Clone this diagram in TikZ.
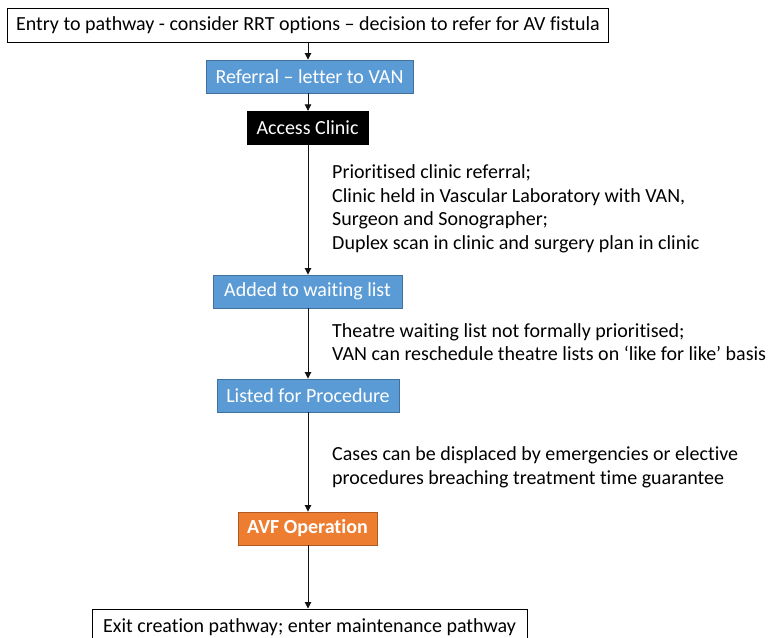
\documentclass[tikz,border=0pt]{standalone}
\usepackage{fontspec}
\setmainfont[Ligatures=NoCommon]{Carlito}
\usetikzlibrary{arrows.meta}
\definecolor{stepblue}{HTML}{5B9BD5}
\definecolor{stepblueedge}{HTML}{41719C}
\definecolor{steporange}{HTML}{ED7D31}
\definecolor{steporangeedge}{HTML}{AE5A21}
\definecolor{linegray}{HTML}{111111}
\begin{document}
\begin{tikzpicture}[x=1pt,y=-1pt,
  every node/.style={font=\fontsize{20}{23.5}\selectfont, inner sep=0pt},
  outlinebox/.style={draw=black, line width=1pt, fill=white, text=black},
  bluebox/.style={draw=stepblueedge, line width=0.9pt, fill=stepblue, text=white},
  blackbox/.style={draw=black, fill=black, text=white},
  orangebox/.style={draw=steporangeedge, line width=0.9pt, fill=steporange, text=white, font=\fontsize{20}{23.5}\selectfont\bfseries},
  note/.style={anchor=base west, align=left, text=black},
  flow/.style={draw=linegray, line width=0.9pt, -{Triangle[length=6.5pt,width=6.5pt]}}
]
\useasboundingbox (0,0) rectangle (768,637);
\begin{scope}
\clip (0,0) rectangle (768,637);

\node[outlinebox, minimum width=601pt, minimum height=34pt] (entry) at (308,25)
  {Entry to pathway - consider RRT options – decision to refer for AV fistula};
\node[bluebox, minimum width=207pt, minimum height=33pt] (referral) at (309.5,76.5)
  {Referral – letter to VAN};
\node[blackbox, minimum width=121pt, minimum height=33pt] (clinic) at (307.5,127.5)
  {Access Clinic};
\node[bluebox, minimum width=189pt, minimum height=33pt] (waiting) at (307.5,291.5)
  {Added to waiting list};
\node[bluebox, minimum width=182pt, minimum height=33pt] (listed) at (308,395.5)
  {Listed for Procedure};
\node[orangebox, minimum width=139pt, minimum height=33pt] (avf) at (307.5,528.5)
  {AVF Operation};
\node[outlinebox, minimum width=435pt, minimum height=36pt] (exit) at (309.5,627)
  {Exit creation pathway; enter maintenance pathway};

% base anchor of a multi-line note sits on its last line
\node[note] (clinicnote) at (332,249)
  {Prioritised clinic referral;\\
   Clinic held in Vascular Laboratory with VAN,\\
   Surgeon and Sonographer;\\
   Duplex scan in clinic and surgery plan in clinic};
\node[note] (waitnote) at (332,360.5)
  {Theatre waiting list not formally prioritised;\\
   VAN can reschedule theatre lists on ‘like for like’ basis};
\node[note] (listnote) at (332,484)
  {Cases can be displaced by emergencies or elective\\
   procedures breaching treatment time guarantee};

\coordinate (spine) at (308,0);
\draw[flow] (entry.south -| spine) -- (referral.north -| spine);
\draw[flow] (referral.south -| spine) -- (clinic.north -| spine);
\draw[flow] (clinic.south -| spine) -- (waiting.north -| spine);
\draw[flow] (waiting.south -| spine) -- (listed.north -| spine);
\draw[flow] (listed.south -| spine) -- (avf.north -| spine);
\draw[flow] (avf.south -| spine) -- (exit.north -| spine);
\end{scope}
\end{tikzpicture}
\end{document}
